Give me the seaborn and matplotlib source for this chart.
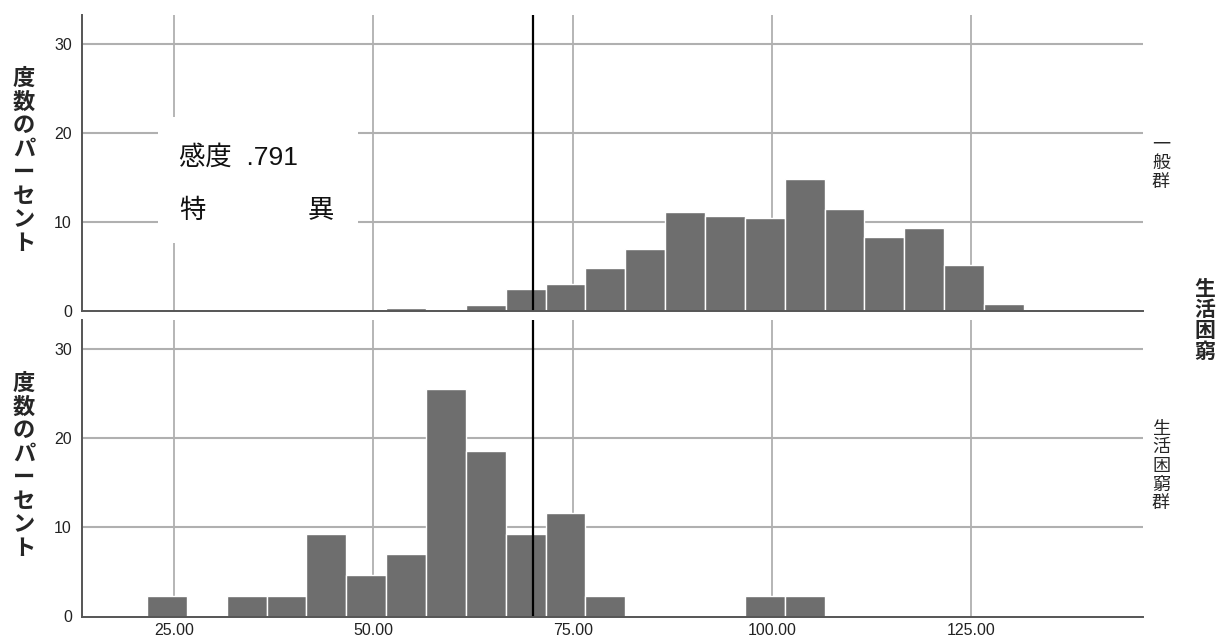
import numpy as np
import pandas as pd
import matplotlib
matplotlib.use("Agg")
import matplotlib.pyplot as plt
import seaborn as sns
from matplotlib.patches import Rectangle

# ---------------- data ----------------
bin_width = 5.0
general_bin_left = [51.6, 56.6, 61.6, 66.6, 71.6, 76.6, 81.6, 86.6, 91.6,
                    96.6, 101.6, 106.6, 111.6, 116.6, 121.6, 126.6]
general_pct = [0.3, 0.0, 0.6, 2.4, 3.0, 4.8, 6.9, 11.1, 10.7,
               10.4, 14.8, 11.4, 8.3, 9.3, 5.2, 0.7]

poverty_bin_left = [21.6, 26.6, 31.6, 36.6, 41.6, 46.6, 51.6, 56.6, 61.6,
                    66.6, 71.6, 76.6, 81.6, 86.6, 91.6, 96.6, 101.6]
poverty_pct = [2.3, 0.0, 2.3, 2.3, 9.3, 4.65, 7.0, 25.6, 18.6,
               9.3, 11.6, 2.3, 0.0, 0.0, 0.0, 2.3, 2.3]

x_ticks = [25, 50, 75, 100, 125]
x_tick_labels = ["25.00", "50.00", "75.00", "100.00", "125.00"]
y_ticks = [0, 10, 20, 30]
y_tick_labels = ["0", "10", "20", "30"]
cutoff = 70.0
sens_label = "感度"
sens_value = ".791"
spec_left = "特"
spec_right = "異"
facet_labels = ["一般群", "生活困窮群"]
row_title = "生活困窮"
y_label = "度数のパーセント"

# ---------------- style ----------------
sns.set_style("white")
plt.rcParams["font.family"] = ["Liberation Sans", "Noto Sans CJK JP", "DejaVu Sans"]

BAR = "#6e6e6e"
GRID = "#b0b0b0"
SPINE = "#555555"

W, H = 1219, 641
fig = plt.figure(figsize=(W / 100, H / 100), dpi=100)
ax1 = fig.add_axes([81.7 / W, 1 - 310.7 / H, (1142.7 - 81.7) / W, (310.7 - 15) / H])
ax2 = fig.add_axes([81.7 / W, 1 - 616.5 / H, (1142.7 - 81.7) / W, (616.5 - 320) / H])

panels = [(ax1, general_bin_left, general_pct), (ax2, poverty_bin_left, poverty_pct)]
for ax, left, pct in panels:
    left = np.asarray(left)
    centers = left + bin_width / 2
    edges = list(left) + [left[-1] + bin_width]
    sns.histplot(x=centers, weights=pct, bins=edges, ax=ax, stat="count",
                 color=BAR, edgecolor="white", linewidth=1.0, alpha=1.0)
    ax.set_xlim(13.42, 146.5)
    ax.set_ylim(0, 33.3)
    ax.set_axisbelow(True)
    ax.set_xticks(x_ticks)
    ax.set_yticks(y_ticks)
    ax.set_yticklabels(y_tick_labels)
    for t in x_ticks:
        ax.axvline(t, color=GRID, lw=1.3, zorder=0)
    for t in y_ticks[1:]:
        ax.axhline(t, color=GRID, lw=1.5, zorder=0)
    ax.axvline(cutoff, color="black", lw=1.6, zorder=3)
    for s in ["top", "right"]:
        ax.spines[s].set_visible(False)
    for s in ["left", "bottom"]:
        ax.spines[s].set_color(SPINE)
        ax.spines[s].set_linewidth(1.4)
        ax.spines[s].set_zorder(4)
    ax.tick_params(axis="both", length=0, labelsize=11.5, colors="#222222")
    ax.tick_params(axis="y", pad=7)
    ax.tick_params(axis="x", pad=5)
    ax.set_xlabel("")
    ax.set_ylabel("")

ax1.set_xticklabels([])
ax2.set_xticklabels(x_tick_labels)

# white annotation box with sensitivity / specificity text
ax1.add_patch(Rectangle((23.0, 7.6), 25.1, 14.2, facecolor="white",
                        edgecolor="none", zorder=2))
ax1.text(25.6, 17.3, sens_label + "  " + sens_value, ha="left", va="center",
         fontsize=19, color="#111111", zorder=5)
ax1.text(25.6, 11.3, spec_left, ha="left", va="center",
         fontsize=19, color="#111111", zorder=5)
ax1.text(41.8, 11.3, spec_right, ha="left", va="center",
         fontsize=19, color="#111111", zorder=5)

# y labels (stacked vertical text)
for yc in [161, 466]:
    fig.text(24 / W, 1 - yc / H, "\n".join(y_label), ha="center", va="center",
             fontsize=16, fontweight="bold", linespacing=1.03,
             family=["Noto Sans CJK JP", "DejaVu Sans"])

# facet labels on the right
for lab, yc in zip(facet_labels, [163, 466]):
    fig.text(1161 / W, 1 - yc / H, "\n".join(lab), ha="center", va="center",
             fontsize=13, linespacing=1.05,
             family=["Noto Sans CJK JP", "DejaVu Sans"])

fig.text(1205 / W, 1 - 320 / H, "\n".join(row_title), ha="center", va="center",
         fontsize=15, fontweight="bold", linespacing=1.0,
         family=["Noto Sans CJK JP", "DejaVu Sans"])

fig.savefig("out.png", dpi=100, facecolor="white")
